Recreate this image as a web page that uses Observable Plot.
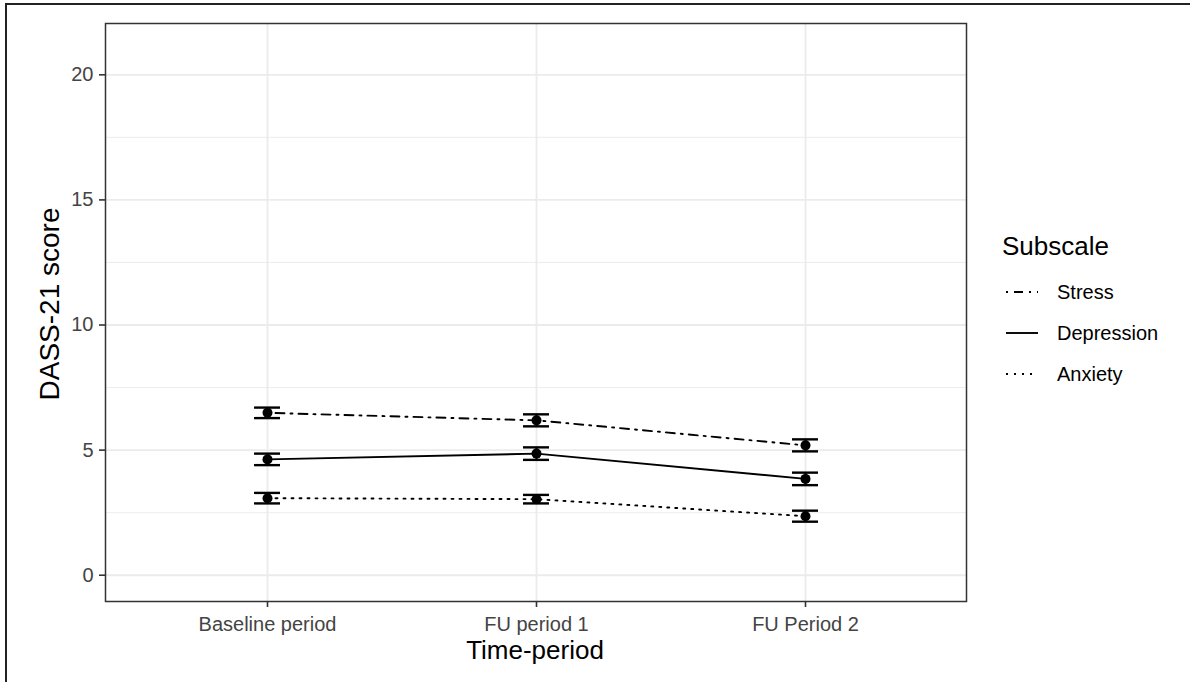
<!DOCTYPE html>
<html>
<head>
<meta charset="utf-8">
<script src="https://cdn.jsdelivr.net/npm/d3@7"></script>
<script src="https://cdn.jsdelivr.net/npm/@observablehq/plot@0.6"></script>
<style>
  html, body { margin: 0; padding: 0; background: #fff; }
  #wrap { position: relative; width: 1190px; height: 682px; overflow: hidden;
          font-family: "Liberation Sans", Arial, Helvetica, sans-serif; }
  #border { position: absolute; left: 5px; top: 3px; width: 1200px; height: 700px;
            border-left: 2px solid #222; border-top: 2px solid #222; pointer-events: none; }
  #overlay { position: absolute; left: 0; top: 0; pointer-events: none; }
</style>
</head>
<body>
<div id="wrap">
  <div id="chart"></div>
  <div id="border"></div>
  <svg id="overlay" width="1190" height="682"></svg>
</div>
<script>
// ---- data ----
const periods = ["Baseline period", "FU period 1", "FU Period 2"];
const subscales = ["Stress", "Depression", "Anxiety"];
const stressMean = [6.49, 6.19, 5.19];
const stressErr = [0.21, 0.24, 0.24];
const depressionMean = [4.63, 4.86, 3.85];
const depressionErr = [0.23, 0.25, 0.25];
const anxietyMean = [3.08, 3.04, 2.36];
const anxietyErr = [0.21, 0.17, 0.22];
const yMajorTicks = [0, 5, 10, 15, 20];
const yMinorTicks = [2.5, 7.5, 12.5, 17.5];
const xTitle = "Time-period";
const yTitle = "DASS-21 score";
const legendTitle = "Subscale";

const means = {Stress: stressMean, Depression: depressionMean, Anxiety: anxietyMean};
const errs = {Stress: stressErr, Depression: depressionErr, Anxiety: anxietyErr};
const dashes = {Stress: "2,6,9,6", Depression: null, Anxiety: "2,6"};

const rows = [];
for (const s of subscales) {
  periods.forEach((p, i) => {
    rows.push({subscale: s, period: p, mean: means[s][i],
               lo: means[s][i] - errs[s][i], hi: means[s][i] + errs[s][i]});
  });
}

const font = '"Liberation Sans", Arial, Helvetica, sans-serif';

const lineMarks = subscales.map(s =>
  Plot.line(rows.filter(d => d.subscale === s), {
    x: "period", y: "mean", stroke: "black", strokeWidth: 1.9,
    strokeDasharray: dashes[s] || undefined
  })
);

const plot = Plot.plot({
  width: 1190,
  height: 682,
  marginLeft: 105,
  marginRight: 224,
  marginTop: 23,
  marginBottom: 81,
  style: {fontFamily: font, background: "white", color: "#444"},
  x: {type: "point", domain: periods, padding: 0.6, label: null},
  y: {domain: [-1.05, 22.05], label: null},
  marks: [
    Plot.gridY(yMinorTicks, {stroke: "#ebebeb", strokeOpacity: 1, strokeWidth: 0.9}),
    Plot.gridY(yMajorTicks, {stroke: "#ebebeb", strokeOpacity: 1, strokeWidth: 1.8}),
    Plot.gridX(periods, {stroke: "#ebebeb", strokeOpacity: 1, strokeWidth: 1.8}),
    ...lineMarks,
    Plot.ruleX(rows, {x: "period", y1: "lo", y2: "hi", stroke: "black", strokeWidth: 2.2}),
    Plot.ruleY(rows, {x1: "period", x2: "period", y: "lo", stroke: "black", strokeWidth: 2.4, insetLeft: -13, insetRight: -13}),
    Plot.ruleY(rows, {x1: "period", x2: "period", y: "hi", stroke: "black", strokeWidth: 2.4, insetLeft: -13, insetRight: -13}),
    Plot.dot(rows, {x: "period", y: "mean", r: 5, fill: "black", stroke: null}),
    Plot.frame({stroke: "#333", strokeWidth: 1.5}),
    Plot.axisY(yMajorTicks, {tickSize: 6, tickPadding: 6, fontSize: 20, stroke: "#333", strokeWidth: 1.6, fill: "#444", label: null}),
    Plot.axisX(periods, {tickSize: 6, tickPadding: 9, fontSize: 20, stroke: "#333", strokeWidth: 1.6, fill: "#444", label: null})
  ]
});
document.getElementById("chart").appendChild(plot);

// ---- axis titles and legend (overlay) ----
const ov = d3.select("#overlay");
ov.append("text").attr("x", 535).attr("y", 659).attr("text-anchor", "middle")
  .attr("font-family", font).attr("font-size", 26).attr("fill", "black").text(xTitle);
ov.append("text").attr("transform", "translate(59,304) rotate(-90)").attr("text-anchor", "middle")
  .attr("font-family", font).attr("font-size", 28).attr("fill", "black").text(yTitle);

ov.append("text").attr("x", 1002).attr("y", 255).attr("font-family", font)
  .attr("font-size", 26).attr("fill", "black").text(legendTitle);
subscales.forEach((s, i) => {
  const cy = 292 + i * 41;
  const l = ov.append("line").attr("x1", 1006).attr("x2", 1038).attr("y1", cy).attr("y2", cy)
    .attr("stroke", "black").attr("stroke-width", 1.9);
  if (dashes[s]) l.attr("stroke-dasharray", dashes[s]);
  ov.append("text").attr("x", 1057).attr("y", cy + 7).attr("font-family", font)
    .attr("font-size", 20).attr("fill", "black").text(s);
});
</script>
</body>
</html>
